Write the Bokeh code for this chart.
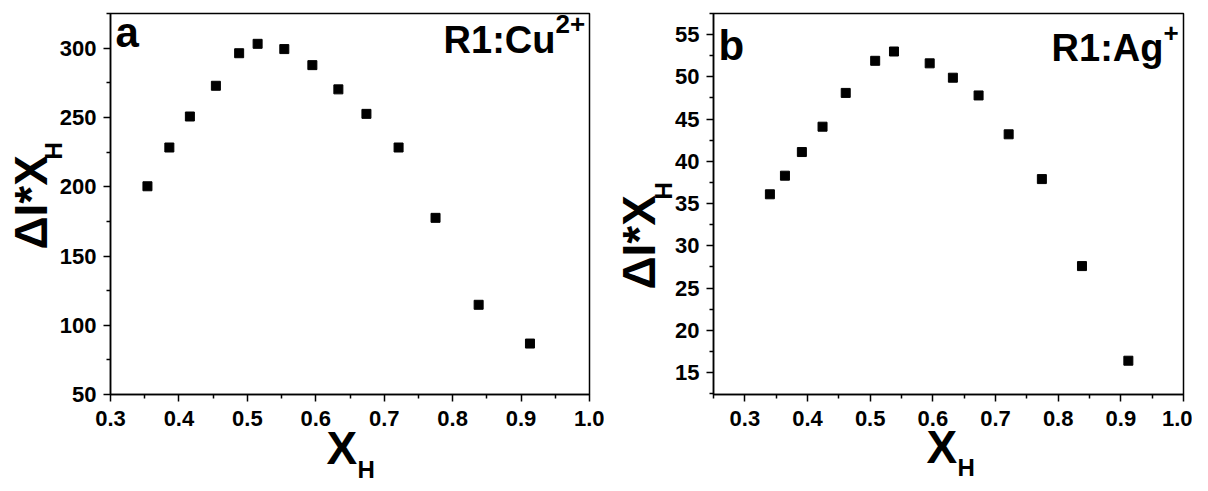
from bokeh.plotting import figure
from bokeh.models import Label, FixedTicker, Range1d, Title
from bokeh.layouts import row
from bokeh.embed import file_html
from bokeh.resources import INLINE

# ---- data ----
xh_cu = [0.354, 0.386, 0.416, 0.454, 0.488, 0.515, 0.554, 0.595, 0.633, 0.674, 0.721, 0.775, 0.838, 0.913]
dixh_cu = [200.4, 228.4, 250.8, 273.0, 296.5, 303.3, 299.5, 287.9, 270.4, 252.7, 228.4, 177.6, 114.8, 86.8]

xh_ag = [0.340, 0.364, 0.391, 0.424, 0.461, 0.508, 0.538, 0.595, 0.632, 0.673, 0.721, 0.774, 0.838, 0.912]
dixh_ag = [36.1, 38.3, 41.1, 44.1, 48.1, 51.9, 53.0, 51.6, 49.9, 47.8, 43.2, 37.9, 27.6, 16.4]

x_ticks = [0.3, 0.4, 0.5, 0.6, 0.7, 0.8, 0.9, 1.0]
x_minor = [0.25, 0.35, 0.45, 0.55, 0.65, 0.75, 0.85, 0.95]
y_ticks_cu = [50, 100, 150, 200, 250, 300]
y_minor_cu = [75, 125, 175, 225, 275, 325]
y_ticks_ag = [15, 20, 25, 30, 35, 40, 45, 50, 55]
y_minor_ag = [12.5, 17.5, 22.5, 27.5, 32.5, 37.5, 42.5, 47.5, 52.5, 57.5]

FONT = "Liberation Sans"


def lab(text, x, y, size, align="left"):
    return Label(x=x, y=y, x_units="screen", y_units="screen", text=text,
                 text_font=FONT, text_font_size=f"{size}px", text_font_style="bold",
                 text_color="black", text_align=align, text_baseline="alphabetic")


def ttl(text, size, va, standoff, offset):
    return Title(text=text, align="left", vertical_align=va, standoff=standoff, offset=offset,
                 text_font=FONT, text_font_size=f"{size}px", text_font_style="bold",
                 text_color="black")


def panel(xs, ys, xr, yr, yt, ym, width, height, bl, br, bt, bb,
          letter, letter_dy, ion_main, ion_sup, sup_w, ion_dy, tpar):
    p = figure(width=width, height=height, output_backend="svg", toolbar_location=None,
               x_range=Range1d(*xr), y_range=Range1d(*yr),
               min_border_left=bl, min_border_right=br, min_border_top=bt, min_border_bottom=bb)
    p.grid.visible = False
    p.outline_line_color = "black"
    p.outline_line_width = 1.5
    p.outline_line_alpha = 1.0
    p.background_fill_color = "white"
    p.border_fill_color = "white"

    p.xaxis.ticker = FixedTicker(ticks=x_ticks, minor_ticks=x_minor)
    p.yaxis.ticker = FixedTicker(ticks=yt, minor_ticks=ym)
    p.xaxis.major_label_overrides = {t: f"{t:.1f}" for t in x_ticks}
    p.yaxis.major_label_overrides = {t: f"{t}" for t in yt}
    for ax in (p.xaxis, p.yaxis):
        ax.axis_line_width = 1.5
        ax.axis_line_color = "black"
        ax.major_tick_line_width = 1.5
        ax.minor_tick_line_width = 1.5
        ax.major_tick_line_color = "black"
        ax.minor_tick_line_color = "black"
        ax.major_tick_out = 7
        ax.major_tick_in = 0
        ax.minor_tick_out = 4
        ax.minor_tick_in = 0
        ax.major_label_text_font = FONT
        ax.major_label_text_font_size = "22px"
        ax.major_label_text_font_style = "bold"
        ax.major_label_text_color = "black"
    p.xaxis.major_label_standoff = 9
    p.yaxis.major_label_standoff = 7

    p.scatter(xs, ys, marker="square", size=9, fill_color="black", line_color="black")

    # axis titles (main symbol + subscript H), stacked in the side panels
    (sx_X, ox_X, sx_H, ox_H, va_Hy, sy_H, oy_H, sy_Y, oy_Y) = tpar
    p.add_layout(ttl("X", 46, "top", sx_X, ox_X), "below")
    p.add_layout(ttl("H", 24, "middle", sx_H, ox_H), "below")
    p.add_layout(ttl("H", 24, va_Hy, sy_H, oy_H), "left")
    p.add_layout(ttl("\u0394I*X", 46, "top", sy_Y, oy_Y), "left")

    fw = width - bl - br
    fh = height - bt - bb
    # panel letter and ion label
    p.add_layout(lab(letter, 5, fh - letter_dy, 42))
    p.add_layout(lab(ion_main, fw - sup_w, fh - ion_dy, 38, align="right"))
    p.add_layout(lab(ion_sup, fw - sup_w, fh - 22, 26, align="left"))
    return p


p1 = panel(xh_cu, dixh_cu, (0.3, 1.0), (50, 325.2), y_ticks_cu, y_minor_cu,
           604, 483, 110, 15, 1, 89, "a", 31, "R1:Cu", "2+", 34, 38,
           (-13, 216, -29, 247, "top", -25, 235, -12, 145))
p2 = panel(xh_ag, dixh_ag, (0.25, 1.0), (12.4, 57.5), y_ticks_ag, y_minor_ag,
           588, 483, 109, 9, 13, 86, "b", 35, "R1:Ag", "+", 20, 37,
           (-15, 213, -29, 244, "top", -13, 195, -21, 105))

layout = row(p1, p2)
open("out.html", "w").write(file_html(layout, INLINE))
